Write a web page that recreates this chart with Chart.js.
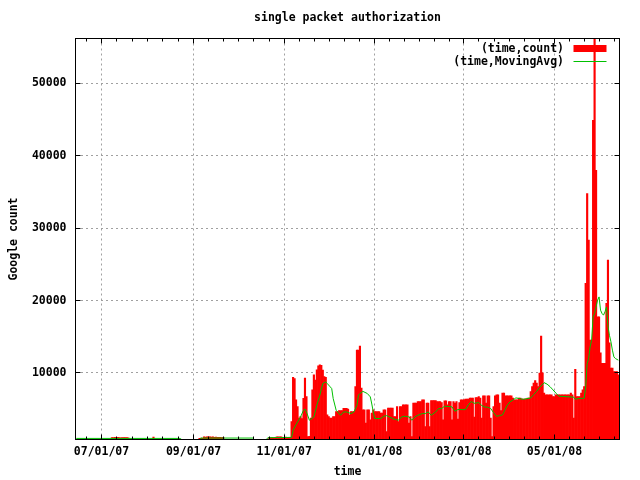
<!DOCTYPE html>
<html><head><meta charset="utf-8">
<script src="https://cdn.jsdelivr.net/npm/chart.js@4.4.0/dist/chart.umd.min.js"></script>
<style>html,body{margin:0;padding:0;background:#fff;}canvas{display:block;}</style>
</head><body>
<canvas id="c" width="640" height="480"></canvas>
<script>
const chartTitle = 'single packet authorization';
const xTitle = 'time';
const yTitle = 'Google count';
const seriesLabels = ['(time,count)', '(time,MovingAvg)'];
const axisStart = '2007-06-13';      // x axis unit: days since this date
const firstCountDate = '2007-06-14'; // date of counts[0], one value per day

const counts = [
  // 06/14/07 ...
  800,800,810,800,800,820,800,800,800,810,800,800,800,800,815,800,800,800,800,810,800,800,800,800,
  1050,1080,1100,1060,1090,1070,1040,1060,1050,1080,1060,1040,
  800,800,820,800,800,800,810,800,800,800,800,830,800,800,800,800,
  1120,
  800,800,810,800,800,800,800,820,800,800,800,800,800,810,800,800,800,800,800,800,800,800,800,800,800,800,800,800,800,800,
  950,980,960,
  1170,1150,1180,1160,1170,1140,1160,
  1100,1120,1090,1110,1100,1080,1100,
  820,830,820,810,820,840,820,820,810,820,830,820,820,810,820,820,830,820,810,820,
  800,800,800,800,800,800,800,800,800,800,
  1050,1080,1060,1040,1050,
  1170,1180,1160,1170,
  1100,1080,1120,1100,1090,1110,
  // day 146 ...
  3280,9400,9200,6280,5350,3750,3980,3700,6500,9270,
  6730,1200,1250,3750,7660,9720,9000,10410,10970,11100,
  11050,10400,9490,9400,4200,3980,3750,3750,3980,3980,
  4660,4660,4800,4800,4800,5120,5120,5120,5000,4200,
  4660,4660,4660,8110,13170,13170,13720,7900,4900,4900,
  3060,4900,4900,3520,4440,4900,4660,4660,4660,4660,
  4440,4440,4900,4900,1900,5130,5130,5130,5130,3970,
  3970,5350,3290,5350,5350,5590,5590,5590,5590,3060,
  3970,1210,5820,5820,5820,6040,6040,6040,6280,6280,
  2590,5820,5820,2590,6180,6180,6180,6180,6040,6040,
  6040,5900,3520,6130,6130,5590,6040,6040,3520,6040,
  5820,6040,3610,5900,6280,6280,6280,6370,6370,6370,
  6510,6510,6510,3890,6600,6600,6730,6510,3750,6830,
  6830,5820,6830,6830,3750,1210,5350,6830,6970,6970,
  5820,4800,7200,7200,6850,6850,6850,6850,6850,6510,
  6280,6280,6280,6510,6510,6370,6370,6370,6370,6510,
  6510,7420,8110,8580,8940,8580,8110,9960,15100,10000,
  7200,6970,6970,6970,6970,6970,6730,6730,6970,6970,
  6970,6970,6970,6970,6970,6970,6970,6970,7200,6970,
  3750,10500,6730,6730,6730,7200,7650,8110,22370,34780,
  28340,14550,14550,44900,56200,38000,17760,17760,12760,11340,
  11340,11340,19610,25590,14140,10650,10650,10200,10200,10200,9720
];

const avgDays = [1,71,72,84,85,120,121,129,130,143,146,147,150,152,154,155,156,158,161,163,165,167,169,170,172,173,174,176,179,181,183,186,188,190,191,192,194,197,199,200,201,202,206,208,210,214,216,218,220,222,225,227,229,231,234,236,238,240,243,245,247,249,252,254,256,258,261,263,265,267,269,272,274,276,278,280,282,284,286,288,289,291,293,295,297,302,307,309,311,313,316,318,320,322,324,326,336,337,339,343,344,345,346,347,348,349,350,352,353,354,355,356,357,358,359,360,361,362,363,364,366];
const avgValues = [950,950,800,800,1000,1000,800,800,1050,1080,1100,2080,3230,3920,4840,5000,4610,3460,3920,5540,6920,8530,8760,8530,8070,7840,6460,4840,4150,4610,4610,4380,4610,5540,6920,7150,7450,7150,6690,5700,4610,3700,3700,4010,4100,3700,3560,3460,3920,4010,3920,3460,3920,4150,4380,4380,4610,4150,4610,5080,5080,5400,5350,5300,4700,4950,4930,4930,5600,6050,5800,5900,5500,5300,5250,5100,4500,4000,4100,4200,4610,5450,6000,6250,6550,6350,6550,7000,7450,8000,8650,8450,8100,7650,7200,6780,6650,6350,6460,6500,8070,11300,11990,13600,14520,17740,18210,20050,20500,18670,18210,17980,18440,19120,16500,15200,14300,13140,12210,11990,11760];

const xTickLabels = ['07/01/07','09/01/07','11/01/07','01/01/08','03/01/08','05/01/08'];
const yTickValues = [10000,20000,30000,40000,50000];
const yMin = 800, yMax = 56200;
const xMin = 0.494, xMax = 366.77;

const DAY = 864e5;
function utc(s){ const [y,m,d] = s.split('-').map(Number); return Date.UTC(y,m-1,d); }
function tickDay(lbl){ const [m,d,y] = lbl.split('/').map(Number); return (Date.UTC(2000+y,m-1,d) - utc(axisStart))/DAY; }
const countOffset = (utc(firstCountDate) - utc(axisStart))/DAY;
const barData = counts.map((v,i)=>({x: countOffset+i, y: v}));
const avgData = avgDays.map((d,i)=>({x: d, y: avgValues[i]}));
const xTickDays = xTickLabels.map(tickDay);

const FONT = {family: "'DejaVu Sans Mono', monospace", size: 11.5, weight: 'bold'};
const CSSFONT = "bold 11.5px 'DejaVu Sans Mono', monospace";

const gnuplotDecor = {
  id: 'gnuplotDecor',
  afterDraw(chart) {
    const {ctx, chartArea: a} = chart;
    const xs = chart.scales.x, ys = chart.scales.y;
    const snap = v => Math.round(v - 0.5) + 0.5;
    ctx.save();
    ctx.strokeStyle = '#000'; ctx.lineWidth = 1; ctx.setLineDash([]);
    ctx.beginPath();
    yTickValues.forEach(v => {
      const p = snap(ys.getPixelForValue(v));
      ctx.moveTo(a.left, p); ctx.lineTo(a.left + 5, p);
      ctx.moveTo(a.right, p); ctx.lineTo(a.right - 5, p);
    });
    const major = xTickDays.map(d => xs.getPixelForValue(d));
    major.forEach(px => {
      const p = snap(px);
      ctx.moveTo(p, a.bottom); ctx.lineTo(p, a.bottom - 5);
      ctx.moveTo(p, a.top); ctx.lineTo(p, a.top + 5);
    });
    const minors = [];
    for (let i = 0; i < major.length - 1; i++) {
      const st = (major[i+1] - major[i]) / 6;
      for (let k = 1; k < 6; k++) minors.push(major[i] + k * st);
    }
    const s0 = (major[1] - major[0]) / 6;
    for (let p = major[0] - s0; p > a.left + 1; p -= s0) minors.push(p);
    const n = major.length;
    const sN = (major[n-1] - major[n-2]) / 6;
    for (let p = major[n-1] + sN; p < a.right - 1; p += sN) minors.push(p);
    minors.forEach(px => {
      const p = snap(px);
      ctx.moveTo(p, a.bottom); ctx.lineTo(p, a.bottom - 3);
      ctx.moveTo(p, a.top); ctx.lineTo(p, a.top + 3);
    });
    ctx.stroke();
    ctx.strokeRect(a.left, a.top, a.right - a.left, a.bottom - a.top);

    ctx.font = CSSFONT;
    ctx.fillStyle = '#000';
    ctx.textAlign = 'center'; ctx.textBaseline = 'middle';
    ctx.fillText(chartTitle, (a.left + a.right) / 2, 18.5);

    ctx.textAlign = 'right';
    ctx.fillText(seriesLabels[0], a.right - 55.5, 49);
    ctx.fillStyle = '#ff0000';
    ctx.fillRect(a.right - 46, 45, 33, 7);
    ctx.fillStyle = '#000';
    ctx.fillText(seriesLabels[1], a.right - 55.5, 62);
    ctx.strokeStyle = '#00c000';
    ctx.beginPath(); ctx.moveTo(a.right - 46, 61.5); ctx.lineTo(a.right - 13, 61.5); ctx.stroke();
    ctx.restore();
  }
};

new Chart(document.getElementById('c'), {
  type: 'bar',
  data: {
    datasets: [
      { type: 'line', label: seriesLabels[1], data: avgData, borderColor: '#00c000', borderWidth: 1,
        pointRadius: 0, tension: 0, fill: false, order: 0 },
      { type: 'bar', label: seriesLabels[0], data: barData, backgroundColor: '#ff0000', borderWidth: 0,
        barPercentage: 1, categoryPercentage: 1, clip: 0, order: 1 }
    ]
  },
  options: {
    responsive: false, animation: false, devicePixelRatio: 1, events: [],
    layout: { padding: { top: 38.5, right: 20.5, bottom: 0, left: 0 } },
    plugins: { legend: { display: false }, title: { display: false }, tooltip: { enabled: false } },
    scales: {
      x: {
        type: 'linear', min: xMin, max: xMax, offset: false,
        afterBuildTicks: s => { s.ticks = xTickDays.map(v => ({value: v})); },
        afterFit: s => { s.height = 40.5; },
        ticks: { autoSkip: false, maxRotation: 0, minRotation: 0, padding: 6, color: '#000', font: FONT,
                 callback: (v, i) => xTickLabels[i] },
        grid: { color: '#a0a0a0', lineWidth: 1, drawTicks: false, offset: false },
        border: { display: false, dash: [2, 3] },
        title: { display: true, text: xTitle, color: '#000', font: FONT, padding: { top: 0, bottom: 1.5 } }
      },
      y: {
        type: 'linear', min: yMin, max: yMax,
        afterBuildTicks: s => { s.ticks = yTickValues.map(v => ({value: v})); },
        afterFit: s => { s.width = 75.5; },
        ticks: { padding: 9, color: '#000', font: FONT, callback: v => String(v) },
        grid: { color: '#a0a0a0', lineWidth: 1, drawTicks: false },
        border: { display: false, dash: [2, 3] },
        title: { display: true, text: yTitle, color: '#000', font: FONT, padding: { top: 7, bottom: 0 } }
      }
    }
  },
  plugins: [gnuplotDecor]
});
</script>
</body></html>
